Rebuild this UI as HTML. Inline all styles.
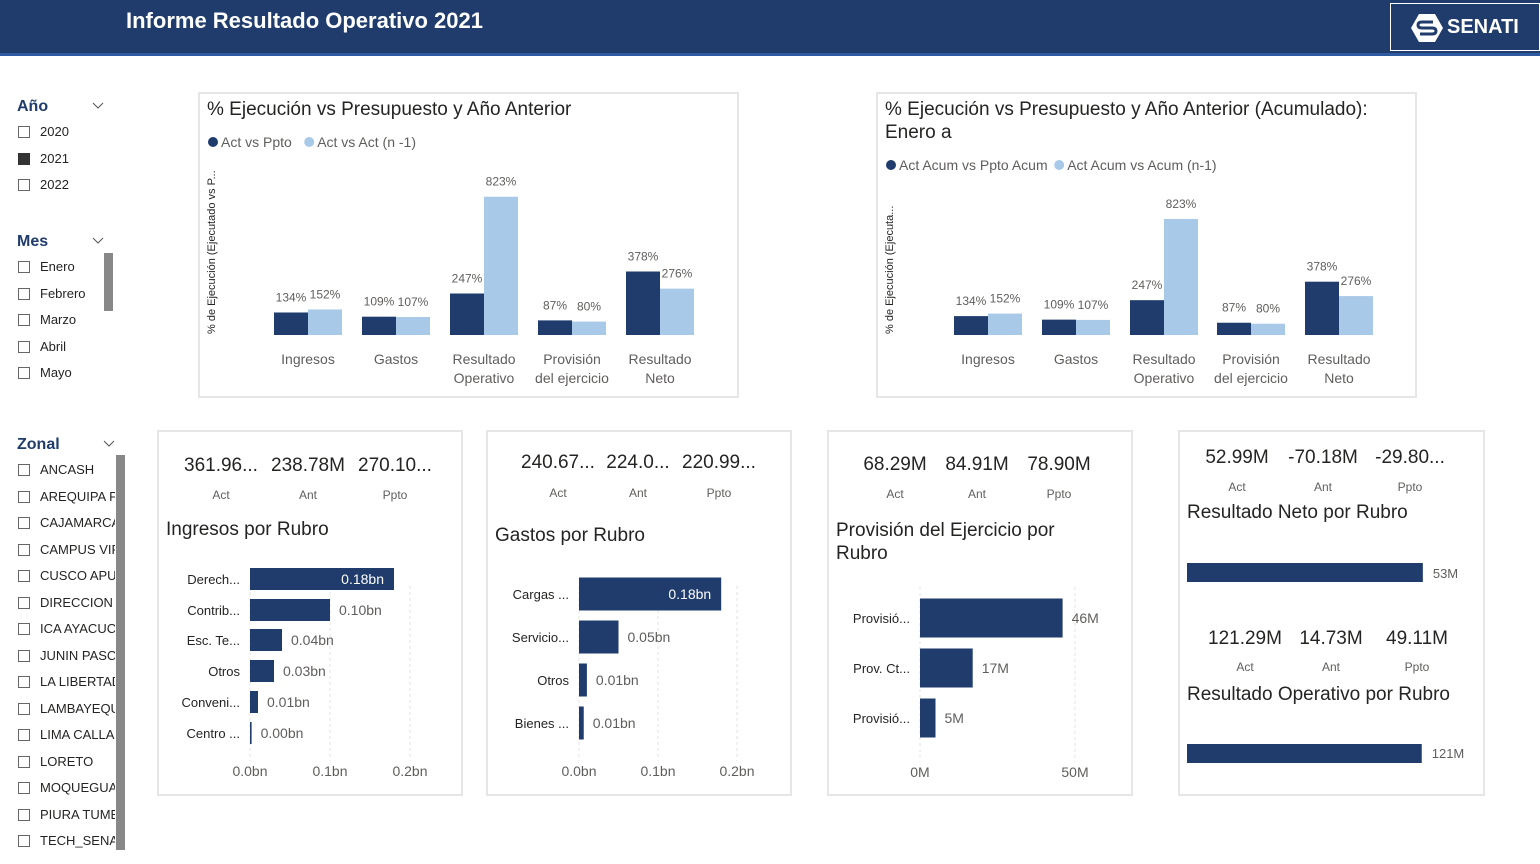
<!DOCTYPE html>
<html><head><meta charset="utf-8"><style>
body{margin:0;width:1540px;height:864px;background:#fff;font-family:"Liberation Sans",sans-serif;position:relative;overflow:hidden}
.a{position:absolute;white-space:nowrap}
.hdr{left:0;top:0;width:1540px;height:53px;background:#1f3c6c;border-bottom:3px solid #2e5aa0}
.cb{position:absolute;width:12px;height:12px;border:1px solid #666;box-sizing:border-box}
.it{font-size:13px;color:#252423}
svg text{font-family:"Liberation Sans",sans-serif}
</style></head><body>
<div class="a hdr"></div>
<div class="a" style="left:126px;top:8px;font-size:22px;font-weight:bold;color:#fff">Informe Resultado Operativo 2021</div>
<div class="a" style="left:1390px;top:3px;width:150px;height:48px;border:1px solid #fff;box-sizing:border-box;color:#fff;font-weight:bold;font-size:20px;line-height:46px;padding-left:56px">SENATI<svg style="position:absolute;left:20px;top:10px" width="32" height="28" viewBox="0 0 32 28"><polygon points="8,0 24,0 32,14 24,28 8,28 0,14" fill="#fff"/><path d="M22 8H11q-4 0-4 3t4 3h10q4 0 4 3t-4 3H9" stroke="#1f3c6c" stroke-width="3" fill="none"/></svg></div>
<div id="sl"></div>
<svg id="c" width="1540" height="864" style="position:absolute;left:0;top:0"></svg>
<script>
// slicer data
const years=['2020','2021','2022'];
const months=['Enero','Febrero','Marzo','Abril','Mayo'];
const zones=['ANCASH','AREQUIPA P...','CAJAMARCA...','CAMPUS VIR...','CUSCO APU...','DIRECCION ...','ICA AYACUC...','JUNIN PASC...','LA LIBERTAD','LAMBAYEQUE','LIMA CALLAO','LORETO','MOQUEGUA...','PIURA TUMB...','TECH_SENATI'];
// chart data
const cats=['Ingresos','Gastos','Resultado|Operativo','Provisión|del ejercicio','Resultado|Neto'];
const actPpto=[134,109,247,87,378];
const actAnt=[152,107,823,80,276];
const ingCats=['Derech...','Contrib...','Esc. Te...','Otros','Conveni...','Centro ...'];
const ingVals=[0.18,0.10,0.04,0.03,0.01,0.002];
const gasCats=['Cargas ...','Servicio...','Otros','Bienes ...'];
const gasVals=[0.18,0.05,0.01,0.006];
const provCats=['Provisió...','Prov. Ct...','Provisió...'];
const provVals=[46,17,5];
const kpiIng=['361.96...','238.78M','270.10...'];
const kpiGas=['240.67...','224.0...','220.99...'];
const kpiProv=['68.29M','84.91M','78.90M'];
const kpiNeto=['52.99M','-70.18M','-29.80...'];
const kpiOp=['121.29M','14.73M','49.11M'];
const netoVal=[53], opVal=[121];
const kpiLabels=['Act','Ant','Ppto'];

const sl=document.getElementById('sl');
function div(html,style,name,inter){const d=document.createElement('div');d.className='a';d.style.cssText=style;d.innerHTML=html;


sl.appendChild(d);return d;}
function slicer(title,y0,items,step,sel,nm,scroll){
 div(title,'left:17px;top:'+(y0-8)+'px;font-size:16px;font-weight:bold;color:#1f3c6c',nm+'-title','false');
 div('<svg width="12" height="8"><path d="M1 1l5 5 5-5" stroke="#555" fill="none"/></svg>','left:'+(title=='Zonal'?103:92)+'px;top:'+(y0-9)+'px',nm+'-chevron','true');
 items.forEach((t,i)=>{const y=y0+25+i*step;
  div('<span class="cb" style="left:0;top:3px;'+(i===sel?'background:#333;border-color:#333':'')+'"></span><span class="it" style="margin-left:22px">'+t+'</span>','left:18px;top:'+(y-8)+'px;width:'+(nm=='zonal'?97:90)+'px;overflow:hidden',nm+'-item','true');});
 if(scroll)div('',scroll,nm+'-scrollbar','true');
}
slicer('Año',106,years,26.5,1,'year');
slicer('Mes',241,months,26.5,-1,'month','left:104px;top:253px;width:9px;height:58px;background:#888');
slicer('Zonal',444,zones,26.5,-1,'zonal','left:116px;top:455px;width:9px;height:395px;background:#888');

const S=document.getElementById('c'),NS='http://www.w3.org/2000/svg';
function el(tag,at,name,inter){const e=document.createElementNS(NS,tag);for(const k in at)e.setAttribute(k,at[k]);


S.appendChild(e);return e;}
function txt(x,y,s,sz,fill,anchor,name,extra){const t=el('text',Object.assign({x:x,y:y,'font-size':sz,fill:fill,'text-anchor':anchor||'start'},extra||{}),name,'false');t.textContent=s;return t;}
function panel(x,y,w,h,name){el('rect',{x:x+1,y:y+1,width:w-2,height:h-2,fill:'none',stroke:'#e6e6e6','stroke-width':2},name,'false');}
const DK='#1f3c6c',LT='#a9c9e8',GR='#605e5c';

function colChart(px,title,legend,ty,ly,base,scale,centers,ytitle){
 panel(px,92,541,306,'pct-chart-panel');
 title.forEach((t,i)=>txt(px+9,ty+i*23,t,19,'#252423','start','chart-title'));
 el('circle',{cx:px+15,cy:ly-5,r:5,fill:DK},'legend-marker-act','false');
 txt(px+23,ly,legend[0],14,GR,'start','legend-entry-act');
 const w2=legend[0].length*7.2+px+32;
 el('circle',{cx:w2,cy:ly-5,r:5,fill:LT},'legend-marker-ant','false');
 txt(w2+8,ly,legend[1],14,GR,'start','legend-entry-ant');
 txt(0,0,ytitle,11,'#252423','start','y-axis-title',{transform:'translate('+(px+17)+',334) rotate(-90)'});
 cats.forEach((c,i)=>{const cx=centers[i];
  const h1=actPpto[i]*scale,h2=actAnt[i]*scale;
  el('rect',{x:cx-34,y:base-h1,width:34,height:h1,fill:DK},'bar-act-vs-ppto','true');
  el('rect',{x:cx,y:base-h2,width:34,height:h2,fill:LT},'bar-act-vs-ant','true');
  txt(cx-17,base-h1-11,actPpto[i]+'%',12,GR,'middle','data-label');
  txt(cx+17,base-h2-11,actAnt[i]+'%',12,GR,'middle','data-label');
  c.split('|').forEach((l,j)=>txt(cx,base+29+j*19,l,14,GR,'middle','x-axis-label'));
 });
}
colChart(198,['% Ejecución vs Presupuesto y Año Anterior'],['Act vs Ppto','Act vs Act (n -1)'],115,147,335,0.168,[308,396,484,572,660],'% de Ejecución (Ejecutado vs P...');
colChart(876,['% Ejecución vs Presupuesto y Año Anterior (Acumulado):','Enero a'],['Act Acum vs Ppto Acum','Act Acum vs Acum (n-1)'],115,170,335,0.141,[988,1076,1164,1251,1339],'% de Ejecución (Ejecuta...');

function kpis(vals,xs,y,ly,name){vals.forEach((v,i)=>{txt(xs[i],y,v,19,'#252423','middle',name+'-value');txt(xs[i],ly,kpiLabels[i],12,GR,'middle',name+'-label');});}
function hbar(cats,vals,x0,pxPer,ys,bh,fmt,ticks,tickFmt,ny,name,inside){
 ticks.forEach(t=>{const x=x0+t*pxPer;el('line',{x1:x,x2:x,y1:ny-190,y2:ny-15,stroke:'#e3e3e3','stroke-dasharray':'3,3'},'gridline','false');txt(x,ny,tickFmt(t),14,GR,'middle','x-tick-label');});
 cats.forEach((c,i)=>{const w=vals[i]*pxPer;
  el('rect',{x:x0,y:ys[i]-bh/2,width:Math.max(w,1),height:bh,fill:DK},name+'-bar','true');
  txt(x0-10,ys[i]+5,c,13,'#252423','end',name+'-category');
  const v=fmt(vals[i]);
  if(inside&&w>100)txt(x0+w-10,ys[i]+5,v,14,'#fff','end',name+'-value');else txt(x0+w+9,ys[i]+5,v,14,GR,'start',name+'-value');
 });
}
const bn=v=>v.toFixed(2)+'bn';
panel(157,430,306,366,'ingresos-panel');
kpis(kpiIng,[221,308,395],471,499,'ingresos-kpi');
txt(166,535,'Ingresos por Rubro',19,'#252423','start','ingresos-title');
hbar(ingCats,ingVals,250,800,[579,610,640,671,702,733],22,bn,[0,0.1,0.2],t=>t.toFixed(1)+'bn',776,'ingresos',true);

panel(486,430,306,366,'gastos-panel');
kpis(kpiGas,[558,638,719],468,497,'gastos-kpi');
txt(495,541,'Gastos por Rubro',19,'#252423','start','gastos-title');
hbar(gasCats,gasVals,579,790,[594,637,680,723],33,bn,[0,0.1,0.2],t=>t.toFixed(1)+'bn',776,'gastos',true);

panel(827,430,306,366,'provision-panel');
kpis(kpiProv,[895,977,1059],470,498,'provision-kpi');
txt(836,536,'Provisión del Ejercicio por',19,'#252423','start','provision-title');
txt(836,559,'Rubro',19,'#252423','start','provision-title');
hbar(provCats,provVals,920,3.1,[618,668,718],39,v=>v+'M',[0,50],t=>t+'M',777,'provision',false);

panel(1178,430,307,366,'resultado-panel');
kpis(kpiNeto,[1237,1323,1410],463,491,'neto-kpi');
txt(1187,518,'Resultado Neto por Rubro',19,'#252423','start','neto-title');
el('rect',{x:1187,y:563,width:netoVal[0]*4.45,height:19,fill:DK},'neto-bar','true');
txt(1187+netoVal[0]*4.45+10,578,netoVal[0]+'M',13,GR,'start','neto-value');
kpis(kpiOp,[1245,1331,1417],644,671,'operativo-kpi');
txt(1187,700,'Resultado Operativo por Rubro',19,'#252423','start','operativo-title');
el('rect',{x:1187,y:744,width:opVal[0]*1.94,height:19,fill:DK},'operativo-bar','true');
txt(1187+opVal[0]*1.94+10,758,opVal[0]+'M',13,GR,'start','operativo-value');
</script>
</body></html>
